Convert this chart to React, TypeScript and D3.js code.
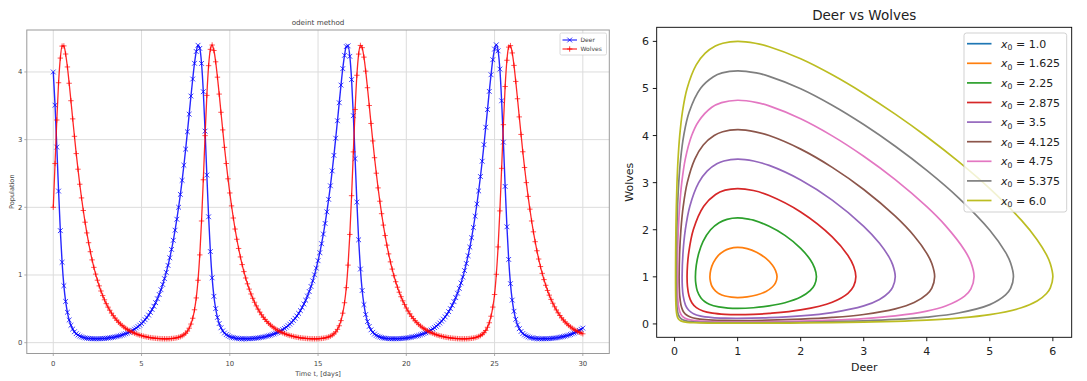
import React from 'react';
import * as d3 from 'd3';

// ---------------- Left panel data (odeint method) ----------------
const timeStepDays = 0.1;
const deerPopulation = [
  4.0, 3.509, 2.89, 2.24, 1.655, 1.188, 0.842, 0.609, 0.449, 0.335,
  0.257, 0.2014, 0.1617, 0.133, 0.1127, 0.0974, 0.086, 0.0775, 0.0713, 0.0664,
  0.0627, 0.0603, 0.0584, 0.0575, 0.0571, 0.0572, 0.058, 0.0591, 0.0607, 0.0627,
  0.0653, 0.0683, 0.0717, 0.0758, 0.0804, 0.0858, 0.0918, 0.0983, 0.1051, 0.1132,
  0.1223, 0.1324, 0.1434, 0.1548, 0.1682, 0.1831, 0.1997, 0.2172, 0.237, 0.259,
  0.283, 0.31, 0.3394, 0.3718, 0.4078, 0.4474, 0.4906, 0.5384, 0.5911, 0.649,
  0.7123, 0.783, 0.8605, 0.946, 1.039, 1.142, 1.254, 1.378, 1.513, 1.662,
  1.824, 2.001, 2.191, 2.398, 2.622, 2.86, 3.116, 3.376, 3.644, 3.896,
  4.128, 4.302, 4.394, 4.348, 4.126, 3.708, 3.126, 2.477, 1.86, 1.346,
  0.958, 0.685, 0.503, 0.373, 0.2828, 0.2198, 0.1748, 0.1426, 0.1196, 0.1025,
  0.0898, 0.0804, 0.0736, 0.0679, 0.0639, 0.0612, 0.059, 0.0578, 0.0572, 0.0571,
  0.0576, 0.0586, 0.06, 0.0619, 0.0643, 0.0671, 0.0704, 0.0743, 0.0786, 0.0838,
  0.0895, 0.096, 0.1022, 0.1101, 0.1189, 0.1286, 0.1393, 0.15, 0.1631, 0.1775,
  0.1933, 0.2103, 0.2296, 0.2507, 0.2741, 0.2996, 0.3284, 0.3596, 0.3942, 0.4325,
  0.4745, 0.52, 0.5712, 0.6272, 0.6887, 0.7562, 0.8312, 0.9134, 1.003, 1.102,
  1.211, 1.33, 1.462, 1.605, 1.762, 1.933, 2.118, 2.318, 2.538, 2.768,
  3.021, 3.279, 3.545, 3.806, 4.049, 4.246, 4.375, 4.386, 4.231, 3.887,
  3.354, 2.719, 2.077, 1.52, 1.088, 0.771, 0.562, 0.416, 0.3118, 0.2401,
  0.1895, 0.1533, 0.1271, 0.1081, 0.094, 0.0836, 0.0759, 0.0697, 0.0653, 0.062,
  0.0597, 0.0581, 0.0574, 0.057, 0.0574, 0.0582, 0.0595, 0.0612, 0.0634, 0.0661,
  0.0691, 0.0728, 0.077, 0.0817, 0.0874, 0.0936, 0.0997, 0.1072, 0.1156, 0.1249,
  0.1353, 0.1463, 0.1582, 0.172, 0.1873, 0.2036, 0.2222, 0.2427, 0.2652, 0.29,
  0.3176, 0.3478, 0.3811, 0.418, 0.4586, 0.5025, 0.5519, 0.6059, 0.6654, 0.7306,
  0.8029, 0.8824, 0.9695, 1.065, 1.17, 1.285, 1.412, 1.55, 1.702, 1.868,
  2.049, 2.242, 2.455, 2.681, 2.925, 3.183, 3.444, 3.713, 3.959, 4.181,
  4.338, 4.401, 4.312, 4.043, 3.574, 2.963, 2.309, 1.712, 1.23, 0.872,
  0.629, 0.464, 0.345, 0.2637, 0.2065, 0.1652, 0.1354, 0.1146, 0.0989, 0.0871,
  0.0782, 0.0719, 0.0668, 0.0629, 0.0605, 0.0586, 0.0576, 0.0571, 0.0571, 0.0578,
  0.0589, 0.0605, 0.0625, 0.065, 0.0679, 0.0713, 0.0753, 0.0798, 0.0852, 0.0911,
  0.0977, 0.1042, 0.1122, 0.1213, 0.1312, 0.1421, 0.1533, 0.1666, 0.1814, 0.1975,
  0.215,
];
const wolfPopulation = [
  2.0, 2.647, 3.29, 3.841, 4.205, 4.382, 4.385, 4.265, 4.074, 3.833,
  3.575, 3.307, 3.049, 2.794, 2.563, 2.341, 2.139, 1.953, 1.78, 1.622,
  1.477, 1.344, 1.223, 1.113, 1.013, 0.9229, 0.8394, 0.7637, 0.6954, 0.6333,
  0.5767, 0.5252, 0.4791, 0.4367, 0.398, 0.3631, 0.3314, 0.3026, 0.2767, 0.2531,
  0.2316, 0.2122, 0.1951, 0.179, 0.1645, 0.1514, 0.1405, 0.1297, 0.1199, 0.111,
  0.1031, 0.0968, 0.0902, 0.0843, 0.0791, 0.0747, 0.0708, 0.0674, 0.0646, 0.0621,
  0.0602, 0.0588, 0.0577, 0.0571, 0.0571, 0.0577, 0.0588, 0.0609, 0.0635, 0.0675,
  0.0729, 0.0795, 0.0886, 0.101, 0.1175, 0.1395, 0.1707, 0.2142, 0.2749, 0.361,
  0.486, 0.661, 0.922, 1.297, 1.798, 2.407, 3.059, 3.654, 4.093, 4.334,
  4.398, 4.317, 4.15, 3.923, 3.673, 3.404, 3.144, 2.886, 2.647, 2.421,
  2.212, 2.021, 1.842, 1.679, 1.528, 1.392, 1.267, 1.154, 1.05, 0.9556,
  0.8696, 0.7913, 0.7198, 0.6558, 0.5973, 0.544, 0.4953, 0.4521, 0.412, 0.3757,
  0.3429, 0.3131, 0.286, 0.2616, 0.2394, 0.2193, 0.201, 0.1849, 0.1698, 0.1562,
  0.1445, 0.1336, 0.1234, 0.1142, 0.106, 0.0989, 0.0925, 0.0864, 0.081, 0.0763,
  0.0722, 0.0686, 0.0656, 0.063, 0.0609, 0.0593, 0.0581, 0.0573, 0.057, 0.0574,
  0.0583, 0.06, 0.0624, 0.0659, 0.0706, 0.0768, 0.085, 0.096, 0.1108, 0.1306,
  0.1583, 0.1965, 0.2499, 0.3259, 0.4357, 0.59, 0.813, 1.146, 1.599, 2.172,
  2.819, 3.445, 3.951, 4.264, 4.392, 4.359, 4.219, 4.012, 3.767, 3.504,
  3.239, 2.981, 2.733, 2.504, 2.287, 2.09, 1.906, 1.737, 1.583, 1.441,
  1.312, 1.194, 1.087, 0.9894, 0.9008, 0.8196, 0.7457, 0.6791, 0.6184, 0.5632,
  0.5127, 0.4679, 0.4265, 0.3888, 0.3547, 0.3239, 0.2957, 0.2705, 0.2474, 0.2265,
  0.2076, 0.1908, 0.1752, 0.1611, 0.1484, 0.1377, 0.1271, 0.1175, 0.1089, 0.1011,
  0.095, 0.0886, 0.083, 0.078, 0.0737, 0.0699, 0.0667, 0.0639, 0.0616, 0.0598,
  0.0585, 0.0575, 0.0571, 0.0572, 0.0579, 0.0592, 0.0615, 0.0645, 0.0686, 0.0745,
  0.0816, 0.0914, 0.1047, 0.1226, 0.1469, 0.1805, 0.2278, 0.2942, 0.3908, 0.5257,
  0.712, 1.01, 1.415, 1.947, 2.576, 3.221, 3.785, 4.173, 4.367, 4.389,
  4.281, 4.097, 3.86, 3.604, 3.336, 3.077, 2.821, 2.588, 2.365, 2.161,
  1.973, 1.798, 1.638, 1.492, 1.358, 1.236, 1.125, 1.024, 0.932, 0.8479,
  0.7715, 0.7022, 0.6396, 0.5825, 0.5305, 0.4838, 0.4409, 0.4019, 0.3666, 0.3346,
  0.3055, 0.2793, 0.2554, 0.2338, 0.2143, 0.1968, 0.1806, 0.166, 0.1528, 0.1417,
  0.1307,
];
const timeDays = deerPopulation.map((_, i) => i * timeStepDays);
const timeTicks = [0, 5, 10, 15, 20, 25, 30];
const populationTicks = [0, 1, 2, 3, 4];
const leftSeriesNames = ['Deer', 'Wolves'];

// ---------------- Right panel data (Deer vs Wolves orbits) ----------------
const orbitLabels = ['1.0', '1.625', '2.25', '2.875', '3.5', '4.125', '4.75', '5.375', '6.0'];
const orbit1_0: [number, number][] = [[1, 1]];
const orbit1_625: [number, number][] = [
  [1.625, 1], [1.6, 1.137], [1.55, 1.251], [1.45, 1.391], [1.3, 1.521], [1.15, 1.598], [1, 1.625],
  [0.871, 1.6], [0.784, 1.55], [0.691, 1.45], [0.615, 1.3], [0.574, 1.15], [0.56, 1],
  [0.5685, 0.9], [0.592, 0.8], [0.647, 0.7], [0.673, 0.673], [0.7, 0.647], [0.8, 0.592], [0.9, 0.5685], [1, 0.56],
  [1.15, 0.574], [1.3, 0.615], [1.45, 0.691], [1.55, 0.784], [1.6, 0.871],
];
const orbit2_25: [number, number][] = [
  [2.25, 1], [2.22, 1.19], [2.15, 1.366], [2, 1.606], [1.75, 1.88], [1.5, 2.072], [1.25, 2.203], [1.19, 2.22], [1, 2.25],
  [0.8305, 2.22], [0.7055, 2.15], [0.571, 2], [0.45, 1.75], [0.383, 1.5], [0.344, 1.25], [0.33, 1],
  [0.337, 0.85], [0.3604, 0.7], [0.4185, 0.55], [0.476, 0.476], [0.55, 0.4185], [0.7, 0.3604], [0.85, 0.337], [1, 0.33],
  [1.25, 0.344], [1.5, 0.383], [1.75, 0.45], [2, 0.571], [2.15, 0.7055], [2.22, 0.8305],
];
const orbit2_875: [number, number][] = [
  [2.875, 1], [2.84, 1.225], [2.75, 1.455], [2.5, 1.85], [2, 2.378], [1.5, 2.727], [1.25, 2.833], [1, 2.875],
  [0.8014, 2.84], [0.65, 2.75], [0.462, 2.5], [0.2967, 2], [0.223, 1.5], [0.2046, 1.25], [0.1976, 1],
  [0.2036, 0.8], [0.228, 0.6], [0.2737, 0.45], [0.3455, 0.3455], [0.45, 0.2737], [0.6, 0.228], [0.8, 0.2036], [1, 0.1976],
  [1.25, 0.2046], [1.5, 0.223], [2, 0.2967], [2.5, 0.462], [2.75, 0.65], [2.84, 0.8014],
];
const orbit3_5: [number, number][] = [
  [3.5, 1], [3.46, 1.254], [3.4, 1.424], [3.25, 1.715], [3, 2.074], [2.5, 2.63], [2, 3.057], [1.5, 3.366], [1.254, 3.46], [1, 3.5],
  [0.7815, 3.46], [0.67, 3.4], [0.519, 3.25], [0.3823, 3], [0.2417, 2.5], [0.1703, 2], [0.1327, 1.5], [0.119, 1],
  [0.1223, 0.8], [0.1353, 0.6], [0.1725, 0.4], [0.2176, 0.3], [0.2546, 0.2546], [0.3, 0.2176], [0.4, 0.1725], [0.6, 0.1353], [0.8, 0.1223], [1, 0.119],
  [1.5, 0.1327], [2, 0.1703], [2.5, 0.2417], [3, 0.3823], [3.25, 0.519], [3.4, 0.67], [3.46, 0.7815],
];
const orbit4_125: [number, number][] = [
  [4.125, 1], [4.08, 1.282], [4, 1.499], [3.8, 1.867], [3.5, 2.287], [3, 2.855], [2.5, 3.325], [2, 3.712], [1.5, 4.0], [1.282, 4.08], [1, 4.125],
  [0.7627, 4.08], [0.6277, 4], [0.455, 3.8], [0.3208, 3.5], [0.2008, 3], [0.1372, 2.5], [0.1002, 2], [0.0794, 1.5], [0.0716, 1],
  [0.0736, 0.8], [0.0808, 0.6], [0.1013, 0.4], [0.1252, 0.3], [0.1459, 0.25], [0.19, 0.19], [0.25, 0.1459], [0.3, 0.1252], [0.4, 0.1013], [0.6, 0.0808], [0.8, 0.0736], [1, 0.0716],
  [1.5, 0.0794], [2, 0.1002], [2.5, 0.1372], [3, 0.2008], [3.5, 0.3208], [3.8, 0.455], [4, 0.6277], [4.08, 0.7627],
];
const orbit4_75: [number, number][] = [
  [4.75, 1], [4.7, 1.307], [4.6, 1.566], [4.3, 2.083], [4, 2.4895], [3.5, 3.064], [3, 3.56], [2.5, 3.993], [2, 4.356], [1.5, 4.63], [1.307, 4.7], [1, 4.75],
  [0.7453, 4.7], [0.59, 4.6], [0.3795, 4.3], [0.2709, 4], [0.1695, 3.5], [0.1135, 3], [0.0798, 2.5], [0.0593, 2], [0.0474, 1.5], [0.0429, 1],
  [0.0455, 0.7], [0.0527, 0.5], [0.0656, 0.35], [0.0847, 0.25], [0.1126, 0.18], [0.1417, 0.1417], [0.18, 0.1126], [0.25, 0.0847], [0.35, 0.0656], [0.5, 0.0527], [0.7, 0.0455], [1, 0.0429],
  [1.5, 0.0474], [2, 0.0593], [2.5, 0.0798], [3, 0.1135], [3.5, 0.1695], [4, 0.2709], [4.3, 0.3795], [4.6, 0.59], [4.7, 0.7453],
];
const orbit5_375: [number, number][] = [
  [5.375, 1], [5.33, 1.295], [5.25, 1.519], [5, 1.991], [4.5, 2.684], [4, 3.261], [3.5, 3.774], [3, 4.235], [2.5, 4.645], [2, 4.995], [1.5, 5.258], [1.295, 5.33], [1, 5.375],
  [0.7538, 5.33], [0.6157, 5.25], [0.41, 5], [0.2313, 4.5], [0.1445, 4], [0.0954, 3.5], [0.0657, 3], [0.0468, 2.5], [0.035, 2], [0.0281, 1.5], [0.02553, 1],
  [0.0272, 0.7], [0.0312, 0.5], [0.0387, 0.35], [0.0494, 0.25], [0.0652, 0.18], [0.0817, 0.14], [0.1066, 0.1066], [0.14, 0.0817], [0.18, 0.0652], [0.25, 0.0494], [0.35, 0.0387], [0.5, 0.0312], [0.7, 0.0272], [1, 0.02553],
  [1.5, 0.0281], [2, 0.035], [2.5, 0.0468], [3, 0.0657], [3.5, 0.0954], [4, 0.1445], [4.5, 0.2313], [5, 0.41], [5.25, 0.6157], [5.33, 0.7538],
];
const orbit6_0: [number, number][] = [
  [6, 1], [5.96, 1.278], [5.9, 1.465], [5.75, 1.789], [5.5, 2.203], [5, 2.873], [4.5, 3.451], [4, 3.975], [3.5, 4.455], [3, 4.895], [2.5, 5.29], [2, 5.63], [1.5, 5.886], [1.278, 5.96], [1, 6],
  [0.765, 5.96], [0.646, 5.9], [0.486, 5.75], [0.343, 5.5], [0.198, 5], [0.1239, 4.5], [0.081, 4], [0.0547, 3.5], [0.038, 3], [0.0274, 2.5], [0.0206, 2], [0.0166, 1.5], [0.0155, 1.25], [0.0151, 1],
  [0.01546, 0.8], [0.0169, 0.6], [0.02084, 0.4], [0.02525, 0.3], [0.0346, 0.2], [0.0443, 0.15], [0.0543, 0.12], [0.0645, 0.1], [0.0801, 0.0801], [0.1, 0.0645], [0.12, 0.0543], [0.15, 0.0443], [0.2, 0.0346], [0.3, 0.02525], [0.4, 0.02084], [0.6, 0.0169], [0.8, 0.01546], [1, 0.0151],
  [1.25, 0.0155], [1.5, 0.0166], [2, 0.0206], [2.5, 0.0274], [3, 0.038], [3.5, 0.0547], [4, 0.081], [4.5, 0.1239], [5, 0.198], [5.5, 0.343], [5.75, 0.486], [5.9, 0.646], [5.96, 0.765],
];
const orbits = [orbit1_0, orbit1_625, orbit2_25, orbit2_875, orbit3_5, orbit4_125, orbit4_75, orbit5_375, orbit6_0];
const orbitColors = d3.schemeCategory10;
const phaseTicks = [0, 1, 2, 3, 4, 5, 6];

const FONT = '"DejaVu Sans", Verdana, sans-serif';

export default function App() {
  // left panel geometry
  const L = { x0: 26.8, x1: 609.3, y0: 30, y1: 353.5 };
  const xL = d3.scaleLinear().domain([-1.5, 31.5]).range([L.x0, L.x1]);
  const yL = d3.scaleLinear().domain([-0.16, 4.62]).range([L.y1, L.y0]);

  // right panel geometry
  const R = { x0: 656.7, x1: 1071.7, y0: 27.3, y1: 337.3 };
  const xR = d3.scaleLinear().domain([-0.284, 6.299]).range([R.x0, R.x1]);
  const yR = d3.scaleLinear().domain([-0.284, 6.299]).range([R.y1, R.y0]);

  const seriesLine = d3
    .line<number>()
    .x((_, i) => xL(timeDays[i]))
    .y((v) => yL(v))
    .curve(d3.curveMonotoneX);

  const ms = 2.4;
  const xMarkerPath = (cx: number, cy: number) =>
    `M${cx - ms},${cy - ms}L${cx + ms},${cy + ms}M${cx - ms},${cy + ms}L${cx + ms},${cy - ms}`;
  const pm = 2.7;
  const plusMarkerPath = (cx: number, cy: number) =>
    `M${cx - pm},${cy}L${cx + pm},${cy}M${cx},${cy - pm}L${cx},${cy + pm}`;

  const deerMarks = deerPopulation.map((v, i) => xMarkerPath(xL(timeDays[i]), yL(v))).join('');
  const wolfMarks = wolfPopulation.map((v, i) => plusMarkerPath(xL(timeDays[i]), yL(v))).join('');

  const orbitLine = d3
    .line<[number, number]>()
    .x((d) => xR(d[0]))
    .y((d) => yR(d[1]))
    .curve(d3.curveCatmullRomClosed.alpha(0.5));

  const leftText = '#444';
  const leftFrame = '#9a9a9a';
  const gridColor = '#dcdcdc';

  const legendY = (i: number) => 43.7 + i * 19.6;

  return (
    <svg
      width={1087}
      height={381}
      viewBox="0 0 1087 381"
      style={{ position: 'absolute', left: 0, top: 0, display: 'block', background: '#fff' }}
      fontFamily={FONT}
    >
      <rect x={0} y={0} width={1087} height={381} fill="#fff" />

      {/* ================= LEFT PANEL ================= */}
      <g>
        <defs>
          <clipPath id="clipL">
            <rect x={L.x0} y={L.y0} width={L.x1 - L.x0} height={L.y1 - L.y0} />
          </clipPath>
        </defs>
        {timeTicks.map((t) => (
          <line key={'gx' + t} x1={xL(t)} x2={xL(t)} y1={L.y0} y2={L.y1} stroke={gridColor} strokeWidth={1} />
        ))}
        {populationTicks.map((p) => (
          <line key={'gy' + p} x1={L.x0} x2={L.x1} y1={yL(p)} y2={yL(p)} stroke={gridColor} strokeWidth={1} />
        ))}
        <g clipPath="url(#clipL)">
          <path d={seriesLine(deerPopulation) || ''} fill="none" stroke="#0000ff" strokeOpacity={0.85} strokeWidth={1.4} />
          <path d={deerMarks} fill="none" stroke="#0000ff" strokeOpacity={0.75} strokeWidth={1} />
          <path d={seriesLine(wolfPopulation) || ''} fill="none" stroke="#ff0000" strokeOpacity={0.85} strokeWidth={1.3} />
          <path d={wolfMarks} fill="none" stroke="#ff0000" strokeOpacity={0.75} strokeWidth={0.9} />
        </g>
        <rect x={L.x0} y={L.y0} width={L.x1 - L.x0} height={L.y1 - L.y0} fill="none" stroke={leftFrame} strokeWidth={1} />
        {timeTicks.map((t) => (
          <g key={'tx' + t}>
            <line x1={xL(t)} x2={xL(t)} y1={L.y1} y2={L.y1 + 2.5} stroke={leftFrame} strokeWidth={0.8} />
            <text x={xL(t)} y={365.5} fontSize={6.9} fill={leftText} textAnchor="middle">
              {t}
            </text>
          </g>
        ))}
        {populationTicks.map((p) => (
          <g key={'ty' + p}>
            <line x1={L.x0 - 2.5} x2={L.x0} y1={yL(p)} y2={yL(p)} stroke={leftFrame} strokeWidth={0.8} />
            <text x={L.x0 - 4.5} y={yL(p) + 2.5} fontSize={6.9} fill={leftText} textAnchor="end">
              {p}
            </text>
          </g>
        ))}
        <text x={(L.x0 + L.x1) / 2} y={24.5} fontSize={7.2} fill={leftText} textAnchor="middle">
          odeint method
        </text>
        <text x={(L.x0 + L.x1) / 2} y={375.5} fontSize={6.6} fill={leftText} textAnchor="middle">
          Time t, [days]
        </text>
        <text
          x={0}
          y={0}
          transform={`translate(14.4, ${(L.y0 + L.y1) / 2}) rotate(-90)`}
          fontSize={6.6}
          fill={leftText}
          textAnchor="middle"
        >
          Population
        </text>
        <rect x={560} y={33} width={46.5} height={22} rx={1.5} fill="#fff" fillOpacity={0.85} stroke="#d0d0d0" strokeWidth={0.8} />
        <line x1={562.5} x2={577} y1={40} y2={40} stroke="#0000ff" strokeWidth={1} />
        <path d={xMarkerPath(569.7, 40)} stroke="#0000ff" strokeWidth={0.8} fill="none" />
        <text x={580.5} y={42.1} fontSize={6} fill={leftText}>
          {leftSeriesNames[0]}
        </text>
        <line x1={562.5} x2={577} y1={49} y2={49} stroke="#ff0000" strokeWidth={1} />
        <path d={plusMarkerPath(569.7, 49)} stroke="#ff0000" strokeWidth={0.8} fill="none" />
        <text x={580.5} y={51.1} fontSize={6} fill={leftText}>
          {leftSeriesNames[1]}
        </text>
      </g>

      {/* ================= RIGHT PANEL ================= */}
      <g>
        <defs>
          <clipPath id="clipR">
            <rect x={R.x0} y={R.y0} width={R.x1 - R.x0} height={R.y1 - R.y0} />
          </clipPath>
        </defs>
        <g clipPath="url(#clipR)">
          {orbits.map((pts, i) =>
            pts.length > 2 ? (
              <path
                key={'orb' + i}
                d={orbitLine(pts) || ''}
                fill="none"
                stroke={orbitColors[i]}
                strokeWidth={1.7}
                strokeLinejoin="round"
              />
            ) : null
          )}
        </g>
        <rect x={R.x0} y={R.y0} width={R.x1 - R.x0} height={R.y1 - R.y0} fill="none" stroke="#000" strokeWidth={0.9} />
        {phaseTicks.map((t) => (
          <g key={'rx' + t}>
            <line x1={xR(t)} x2={xR(t)} y1={R.y1} y2={R.y1 + 3.9} stroke="#000" strokeWidth={0.9} />
            <text x={xR(t)} y={354.6} fontSize={11} fill="#222" textAnchor="middle">
              {t}
            </text>
          </g>
        ))}
        {phaseTicks.map((t) => (
          <g key={'ry' + t}>
            <line x1={R.x0 - 3.9} x2={R.x0} y1={yR(t)} y2={yR(t)} stroke="#000" strokeWidth={0.9} />
            <text x={R.x0 - 7.6} y={yR(t) + 4} fontSize={11} fill="#222" textAnchor="end">
              {t}
            </text>
          </g>
        ))}
        <text x={(R.x0 + R.x1) / 2} y={20} fontSize={13.5} fill="#222" textAnchor="middle">
          Deer vs Wolves
        </text>
        <text x={(R.x0 + R.x1) / 2} y={370.6} fontSize={11} fill="#222" textAnchor="middle">
          Deer
        </text>
        <text
          x={0}
          y={0}
          transform={`translate(633, ${(R.y0 + R.y1) / 2}) rotate(-90)`}
          fontSize={11}
          fill="#222"
          textAnchor="middle"
        >
          Wolves
        </text>
        <rect x={964} y={33} width={102.7} height={179} rx={2.5} fill="#fff" fillOpacity={0.8} stroke="#cccccc" strokeWidth={0.9} />
        {orbitLabels.map((lab, i) => (
          <g key={'lg' + i}>
            <line x1={967} x2={991.5} y1={legendY(i)} y2={legendY(i)} stroke={orbitColors[i]} strokeWidth={1.7} />
            <text x={1001} y={legendY(i) + 4} fontSize={11} fill="#222" style={{ whiteSpace: 'pre' }}>
              <tspan fontStyle="italic">x</tspan>
              <tspan fontSize={7.7} dy={2.4}>0</tspan>
              <tspan dy={-2.4}>{' = ' + lab}</tspan>
            </text>
          </g>
        ))}
      </g>
    </svg>
  );
}
